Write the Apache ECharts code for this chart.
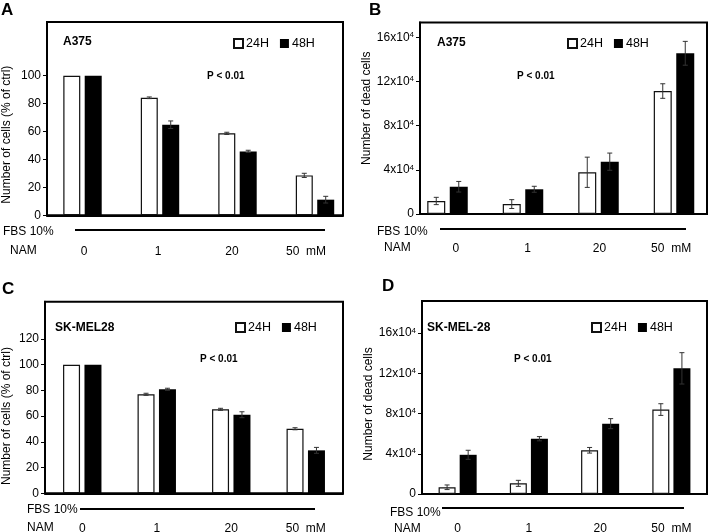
<!DOCTYPE html>
<html><head><meta charset="utf-8">
<script src="https://cdn.jsdelivr.net/npm/echarts@6/dist/echarts.min.js"></script>
<style>html,body{margin:0;padding:0;background:#fff}#c{width:709px;height:532px}</style>
</head><body><div id="c"></div>
<script>
// ---------- data ----------
const categories = ['0', '1', '20', '50  mM'];
const seriesNames = ['24H', '48H'];

// Panel A: A375, % of ctrl
const a24 = [100, 84.2, 58.7, 28.6];
const a24Err = [0, 0.6, 0.8, 1.5];
const a48 = [100, 64.9, 45.8, 11.2];
const a48Err = [0, 2.7, 0.8, 2.4];
const aTicks = [0, 20, 40, 60, 80, 100];

// Panel B: A375, dead cells
const b24 = [11800, 9000, 37800, 111400];
const b24Err = [3300, 4000, 13700, 6600];
const b48 = [24700, 22400, 47400, 145600];
const b48Err = [4800, 2700, 7800, 10800];
const bTicks = [0, 40000, 80000, 120000, 160000];

// Panel C: SK-MEL28, % of ctrl
const c24 = [100, 77, 65.3, 50.2];
const c24Err = [0, 0.8, 0.8, 0.8];
const c48 = [100, 80.9, 61.1, 33.4];
const c48Err = [0, 0.8, 2.3, 2.3];
const cTicks = [0, 20, 40, 60, 80, 100, 120];

// Panel D: SK-MEL-28, dead cells
const d24 = [6700, 10600, 43500, 84000];
const d24Err = [2300, 3000, 2800, 5800];
const d48 = [39000, 55000, 70000, 125000];
const d48Err = [4500, 2100, 5000, 15600];
const dTicks = [0, 40000, 80000, 120000, 160000];

// ---------- layout ----------
const FONT = 'Liberation Sans, Arial, sans-serif';
const panels = [
  {letter:'A', cell:'A375', yName:'Number of cells (% of ctrl)', v24:a24, e24:a24Err, v48:a48, e48:a48Err, ticks:aTicks, max:138.5, sci:false,
   frame:{left:47, top:22, width:296, height:193.3}, bars:{left:43.75, width:310}, barW:17, gap:0.26,
   namePad:[0,32,0,0], nameGap:34, labelMargin:30,
   letterPos:[1,10], cellPos:[63,42], pPos:[207,76], legendPos:[233,37], fbsPos:[3,232], fbsLine:[75,325,230], namPos:[10,251]},
  {letter:'B', cell:'A375', yName:'Number of dead cells', v24:b24, e24:b24Err, v48:b48, e48:b48Err, ticks:bTicks, max:173500, sci:true,
   frame:{left:420, top:22.5, width:287, height:191.5}, bars:{left:409.75, width:302}, barW:18, gap:0.25,
   namePad:[0,0,0,20], nameGap:47, labelMargin:29,
   letterPos:[369,10], cellPos:[437,43], pPos:[517,76], legendPos:[567,37], fbsPos:[377,232], fbsLine:[440,686,229], namPos:[384,248]},
  {letter:'C', cell:'SK-MEL28', yName:'Number of cells (% of ctrl)', v24:c24, e24:c24Err, v48:c48, e48:c48Err, ticks:cTicks, max:149, sci:false,
   frame:{left:45, top:301.7, width:298, height:191.6}, bars:{left:45, width:298}, barW:17, gap:0.26,
   namePad:[0,37,0,0], nameGap:32, labelMargin:29,
   letterPos:[2,289], cellPos:[55,328], pPos:[200,359], legendPos:[235,321], fbsPos:[27,510], fbsLine:[80,315,509], namPos:[27,528]},
  {letter:'D', cell:'SK-MEL-28', yName:'Number of dead cells', v24:d24, e24:d24Err, v48:d48, e48:d48Err, ticks:dTicks, max:192000, sci:true,
   frame:{left:422, top:301, width:285, height:193}, bars:{left:422, width:285}, barW:17, gap:0.24,
   namePad:[0,13,0,0], nameGap:45, labelMargin:29,
   letterPos:[382,286], cellPos:[427,328], pPos:[514,359], legendPos:[591,321], fbsPos:[390,513], fbsLine:[442,684,508], namPos:[394,529]}
];

const grid = [], xAxis = [], yAxis = [], series = [], legend = [], graphic = [];

function errSeries(name, axisIdx, vals, errs, side, barW, gap) {
  return {
    type: 'custom', name: name, xAxisIndex: axisIdx, yAxisIndex: axisIdx, z: 10,
    data: vals.map((v, i) => [i, v - errs[i], v + errs[i]]),
    renderItem: function (params, api) {
      const i = api.value(0);
      const lo = api.coord([i, api.value(1)]);
      const hi = api.coord([i, api.value(2)]);
      if (Math.abs(lo[1] - hi[1]) < 0.5) return null;
      const cx = lo[0] + side * (barW + barW * gap) / 2;
      const cw = 2.5;
      const st = {stroke: '#333', lineWidth: 1};
      return {type: 'group', children: [
        {type: 'line', shape: {x1: cx, y1: lo[1], x2: cx, y2: hi[1]}, style: st},
        {type: 'line', shape: {x1: cx - cw, y1: hi[1], x2: cx + cw, y2: hi[1]}, style: st},
        {type: 'line', shape: {x1: cx - cw, y1: lo[1], x2: cx + cw, y2: lo[1]}, style: st}
      ]};
    }
  };
}

panels.forEach((p, k) => {
  const fi = 2 * k, bi = 2 * k + 1;
  grid.push({left: p.frame.left, top: p.frame.top, width: p.frame.width, height: p.frame.height,
    outerBoundsMode: 'none', containLabel: false,
    show: true, borderColor: '#000', borderWidth: 2, backgroundColor: '#fff'});
  grid.push({left: p.bars.left, top: p.frame.top, width: p.bars.width, height: p.frame.height,
    outerBoundsMode: 'none', containLabel: false, show: false});
  // frame axes
  xAxis.push({type: 'category', gridIndex: fi, data: categories, boundaryGap: true,
    axisLine: {show: true, lineStyle: {color: '#000', width: 2}}, axisTick: {show: false},
    axisLabel: {margin: p.labelMargin, color: '#000', fontSize: 12, fontFamily: FONT, interval: 0}});
  yAxis.push({type: 'value', gridIndex: fi, min: 0, max: p.max,
    name: p.yName, nameLocation: 'middle', nameRotate: 90, nameGap: p.nameGap,
    nameTextStyle: {color: '#000', fontSize: 12, fontFamily: FONT, padding: p.namePad},
    splitLine: {show: false},
    axisLine: {show: true, lineStyle: {color: '#000', width: 2}},
    axisTick: {show: true, length: 4, customValues: p.ticks, lineStyle: {color: '#000', width: 1}},
    axisLabel: {margin: 6, color: '#000', fontSize: 12, fontFamily: FONT, customValues: p.ticks,
      formatter: p.sci ? (v => v === 0 ? '0' : '{a|' + (v / 10000) + 'x10}{s|4}') : (v => String(v)),
      rich: {a: {fontSize: 12, fontFamily: FONT, color: '#000'},
             s: {fontSize: 8, fontFamily: FONT, color: '#000', verticalAlign: 'top', padding: [0, 0, 5, 0]}}}});
  // bar axes
  xAxis.push({type: 'category', gridIndex: bi, data: categories, show: false});
  yAxis.push({type: 'value', gridIndex: bi, min: 0, max: p.max, show: false, splitLine: {show: false}});

  series.push({type: 'bar', name: seriesNames[0], xAxisIndex: bi, yAxisIndex: bi, data: p.v24,
    barWidth: p.barW, barGap: (p.gap * 100) + '%', itemStyle: {color: '#fff', borderColor: '#111', borderWidth: 1.2}});
  series.push({type: 'bar', name: seriesNames[1], xAxisIndex: bi, yAxisIndex: bi, data: p.v48,
    barWidth: p.barW, barGap: (p.gap * 100) + '%', itemStyle: {color: '#000'}});
  series.push(errSeries('err24', bi, p.v24, p.e24, -1, p.barW, p.gap));
  series.push(errSeries('err48', bi, p.v48, p.e48, 1, p.barW, p.gap));

  legend.push({data: seriesNames, left: p.legendPos[0], top: p.legendPos[1], padding: 0,
    icon: 'rect', itemWidth: 9, itemHeight: 9, itemGap: 11, selectedMode: false,
    textStyle: {fontSize: 12.5, color: '#000', fontFamily: FONT, padding: [0, 0, 0, -2]}});

  const txt = (x, y, t, size, weight) => ({type: 'text', x: x, y: y,
    style: {text: t, fill: '#000', font: weight + ' ' + size + 'px ' + FONT, textVerticalAlign: 'middle', textAlign: 'left'}});
  graphic.push(txt(p.letterPos[0], p.letterPos[1], p.letter, 17, 'bold'));
  graphic.push(txt(p.cellPos[0], p.cellPos[1], p.cell, 12, 'bold'));
  graphic.push(txt(p.pPos[0], p.pPos[1], 'P < 0.01', 10, 'bold'));
  graphic.push(txt(p.fbsPos[0], p.fbsPos[1], 'FBS 10%', 12, 'normal'));
  graphic.push(txt(p.namPos[0], p.namPos[1], 'NAM', 12, 'normal'));
  graphic.push({type: 'line', shape: {x1: p.fbsLine[0], y1: p.fbsLine[2], x2: p.fbsLine[1], y2: p.fbsLine[2]},
    style: {stroke: '#000', lineWidth: 2}});
});

const chart = echarts.init(document.getElementById('c'), null, {renderer: 'canvas'});
chart.setOption({animation: false, backgroundColor: '#fff', grid, xAxis, yAxis, series, legend, graphic});
</script></body></html>
